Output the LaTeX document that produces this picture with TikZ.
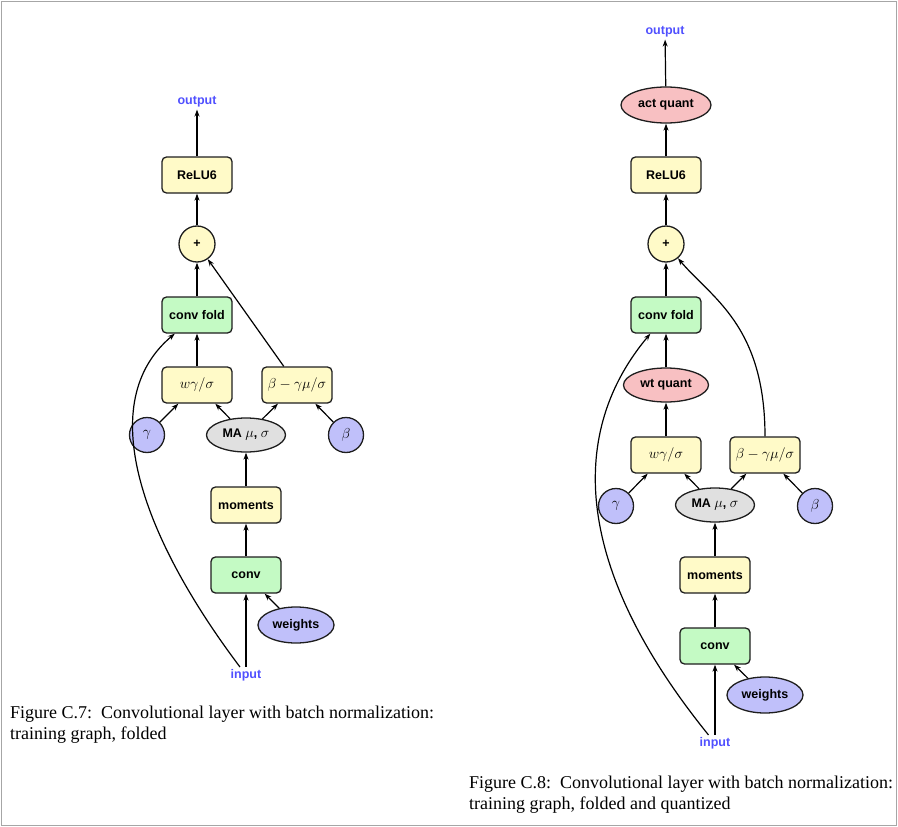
\documentclass[tikz,border=0pt]{standalone}
\usepackage{fontspec}
\setmainfont{Liberation Serif}
\newfontfamily\nodefont{Liberation Sans}
\usetikzlibrary{shapes.geometric,arrows.meta}

\definecolor{boxyellow}{RGB}{255,250,200}
\definecolor{boxgreen}{RGB}{196,250,196}
\definecolor{boxblue}{RGB}{192,192,250}
\definecolor{boxgray}{RGB}{224,224,224}
\definecolor{boxpink}{RGB}{248,192,194}
\definecolor{ioblue}{RGB}{80,80,255}
\definecolor{edgedark}{RGB}{30,30,30}

% math inside the nodes is set a little larger than the sans labels
\newcommand\nm[1]{{\fontsize{14.5}{15}\selectfont$#1$}}

\tikzset{
  base/.style={draw=edgedark, line width=1.3pt,
    font=\nodefont\bfseries\fontsize{12.5}{15}\selectfont},
  opbox/.style={base, rectangle, rounded corners=4.5pt,
    minimum width=70pt, minimum height=36pt, inner sep=0pt},
  yel/.style={opbox, fill=boxyellow},
  grn/.style={opbox, fill=boxgreen},
  param/.style={base, circle, minimum size=35pt, inner sep=0pt, fill=boxblue},
  addop/.style={base, circle, minimum size=36pt, inner sep=0pt, fill=boxyellow},
  oval/.style={base, ellipse, inner sep=0pt, minimum height=35pt},
  io/.style={font=\nodefont\bfseries\fontsize{12.5}{15}\selectfont,
    text=ioblue, inner sep=2pt},
  flow/.style={line width=1.2pt, draw=black,
    -{Stealth[length=7pt,width=5pt]}},
  caption/.style={font=\fontsize{18}{20.5}\selectfont, align=left,
    anchor=base west, inner sep=0pt}
}

\begin{document}
\begin{tikzpicture}[x=1pt,y=1pt]
\useasboundingbox (0,0) rectangle (898,-827);
\draw[black!35, line width=1.2pt] (1.5,-1.5) rectangle (896.5,-825.5);

% ---- training graph, folded ----
\node[io]  (out1)  at (197,-102) {output};
\node[yel] (relu1) at (197,-175) {ReLU6};
\node[addop] (plus1) at (197,-244) {+};
\node[grn] (fold1) at (197,-315) {conv fold};
\node[yel] (w1)    at (197,-385) {\nm{w\gamma/\sigma}};
\node[yel] (b1)    at (297,-385) {\nm{\beta-\gamma\mu/\sigma}};
\node[param] (g1)  at (147,-435) {\nm{\gamma}};
\node[oval, fill=boxgray, minimum width=79pt, minimum height=34pt] (ma1) at (246,-435) {MA \nm{\mu}, \nm{\sigma}};
\node[param] (bc1) at (346,-435) {\nm{\beta}};
\node[yel] (mom1)  at (246,-505) {moments};
\node[grn] (conv1) at (246,-575) {conv};
\node[oval, fill=boxblue, minimum width=76pt, minimum height=36pt] (wt1) at (296,-625) {weights};
\node[io]  (in1)   at (246,-675) {input};

\draw[flow] (relu1) -- (out1);
\draw[flow] (plus1) -- (relu1);
\draw[flow] (fold1) -- (plus1);
\draw[flow] (b1) -- (plus1);
\draw[flow] (w1) -- (fold1);
\draw[flow] (g1) -- (w1);
\draw[flow] (ma1) -- (w1);
\draw[flow] (ma1) -- (b1);
\draw[flow] (bc1) -- (b1);
\draw[flow] (mom1) -- (ma1);
\draw[flow] (conv1) -- (mom1);
\draw[flow] (in1) -- (conv1);
\draw[flow] (wt1) -- (conv1);
\draw[flow] (in1) .. controls +(127:175) and +(220:135) .. (fold1);

\node[caption] (cap1) at (10,-739)
  {Figure C.7:\ \ Convolutional layer with batch normalization:\\training graph, folded};

% ---- training graph, folded and quantized ----
\node[io]  (out2)  at (665,-32) {output};
\node[oval, fill=boxpink, minimum width=90pt, minimum height=36pt] (aq2) at (666,-105) {act quant};
\node[yel] (relu2) at (666,-175) {ReLU6};
\node[addop] (plus2) at (666,-244) {+};
\node[grn] (fold2) at (666,-315) {conv fold};
\node[oval, fill=boxpink, minimum width=85pt, minimum height=34pt] (wq2) at (666,-385) {wt quant};
\node[yel] (w2)    at (666,-455) {\nm{w\gamma/\sigma}};
\node[yel] (b2)    at (765,-455) {\nm{\beta-\gamma\mu/\sigma}};
\node[param] (g2)  at (616,-506) {\nm{\gamma}};
\node[oval, fill=boxgray, minimum width=79pt, minimum height=34pt] (ma2) at (715,-505) {MA \nm{\mu}, \nm{\sigma}};
\node[param] (bc2) at (815,-506) {\nm{\beta}};
\node[yel] (mom2)  at (715,-575) {moments};
\node[grn] (conv2) at (715,-646) {conv};
\node[oval, fill=boxblue, minimum width=76pt, minimum height=36pt] (wt2) at (765,-695) {weights};
\node[io]  (in2)   at (715,-743) {input};

\draw[flow] (aq2) -- (out2);
\draw[flow] (relu2) -- (aq2);
\draw[flow] (plus2) -- (relu2);
\draw[flow] (fold2) -- (plus2);
\draw[flow] (b2) .. controls +(90:130) and +(-50:70) .. (plus2);
\draw[flow] (wq2) -- (fold2);
\draw[flow] (w2) -- (wq2);
\draw[flow] (g2) -- (w2);
\draw[flow] (ma2) -- (w2);
\draw[flow] (ma2) -- (b2);
\draw[flow] (bc2) -- (b2);
\draw[flow] (mom2) -- (ma2);
\draw[flow] (conv2) -- (mom2);
\draw[flow] (in2) -- (conv2);
\draw[flow] (wt2) -- (conv2);
\draw[flow] (in2) .. controls +(129:230) and +(230:150) .. (fold2);

\node[caption] (cap2) at (469,-809)
  {Figure C.8:\ \ Convolutional layer with batch normalization:\\training graph, folded and quantized};
\end{tikzpicture}
\end{document}
